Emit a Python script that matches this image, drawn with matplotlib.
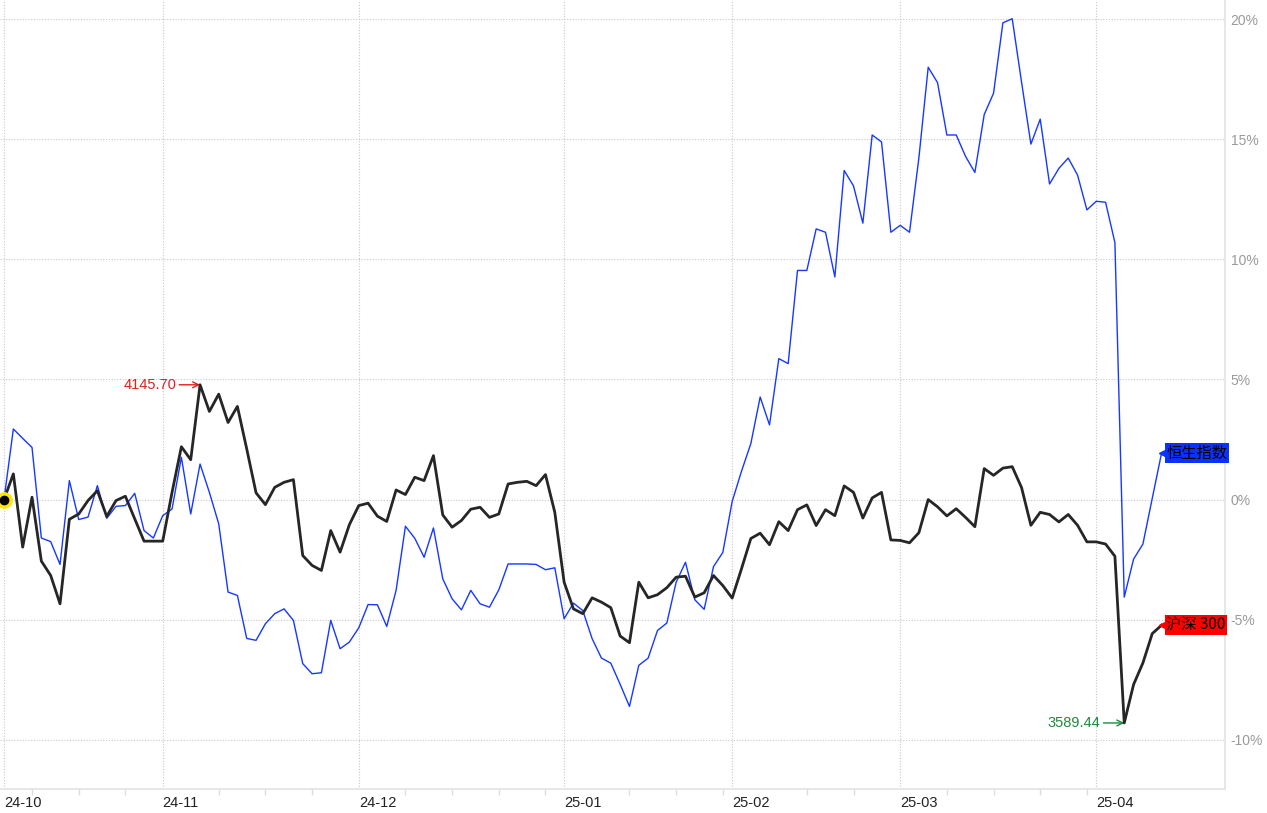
import numpy as np
import matplotlib.pyplot as plt

plt.rcParams['font.family'] = ['Liberation Sans', 'Noto Sans CJK SC', 'DejaVu Sans']

# % change vs. first day, one value per trading day (2024-10-09 .. 2025-04-11)
csi300 = [0, 1.07, -1.98, 0.1, -2.56, -3.16, -4.34, -0.82, -0.6, -0.04,
          0.37, -0.7, -0.04, 0.14, -0.8, -1.73, -1.73, -1.73, 0.3, 2.2,
          1.66, 4.78, 3.67, 4.39, 3.21, 3.88, 2.11, 0.28, -0.21, 0.51,
          0.72, 0.83, -2.33, -2.74, -2.95, -1.29, -2.19, -1.04, -0.25, -0.15,
          -0.69, -0.91, 0.4, 0.21, 0.93, 0.79, 1.83, -0.64, -1.15, -0.87,
          -0.4, -0.32, -0.74, -0.6, 0.65, 0.72, 0.76, 0.58, 1.04, -0.53,
          -3.44, -4.55, -4.75, -4.09, -4.27, -4.5, -5.68, -5.96, -3.44, -4.09,
          -3.96, -3.67, -3.23, -3.19, -4.06, -3.88, -3.16, -3.58, -4.1, -2.88,
          -1.62, -1.4, -1.88, -0.92, -1.29, -0.42, -0.22, -1.08, -0.42, -0.67,
          0.57, 0.3, -0.77, 0.07, 0.3, -1.68, -1.7, -1.8, -1.38, 0.0,
          -0.3, -0.68, -0.38, -0.74, -1.13, 1.29, 1.01, 1.31, 1.37, 0.5,
          -1.07, -0.53, -0.62, -0.93, -0.62, -1.07, -1.76, -1.76, -1.85, -2.36,
          -9.3, -7.7, -6.8, -5.58, -5.23]

hsi = [0, 2.94, 2.55, 2.17, -1.6, -1.75, -2.7, 0.79, -0.83, -0.73,
       0.58, -0.78, -0.28, -0.25, 0.26, -1.29, -1.6, -0.67, -0.39, 1.76,
       -0.6, 1.48, 0.3, -1.01, -3.85, -3.99, -5.78, -5.86, -5.17, -4.75,
       -4.55, -5.03, -6.83, -7.25, -7.21, -5.03, -6.21, -5.93, -5.34, -4.37,
       -4.38, -5.28, -3.78, -1.11, -1.61, -2.4, -1.18, -3.3, -4.13, -4.59,
       -3.78, -4.34, -4.48, -3.76, -2.68, -2.68, -2.68, -2.7, -2.92, -2.84,
       -4.96, -4.31, -4.62, -5.79, -6.6, -6.81, -7.69, -8.61, -6.9, -6.6,
       -5.45, -5.14, -3.44, -2.61, -4.17, -4.57, -2.79, -2.2, -0.08, 1.18,
       2.33, 4.27, 3.11, 5.87, 5.66, 9.54, 9.54, 11.27, 11.13, 9.27,
       13.7, 13.06, 11.51, 15.18, 14.89, 11.13, 11.42, 11.13, 14.22, 18.0,
       17.36, 15.18, 15.18, 14.29, 13.62, 16.03, 16.92, 19.85, 20.02, 17.38,
       14.8, 15.84, 13.14, 13.79, 14.22, 13.51, 12.06, 12.42, 12.38, 10.7,
       -4.06, -2.48, -1.85, 0.05, 1.94]

month_idx = [0, 17, 38, 60, 78, 96, 117]
month_labels = ['24-10', '24-11', '24-12', '25-01', '25-02', '25-03', '25-04']
week_idx = [3, 8, 13, 23, 28, 33, 43, 48, 53, 58, 67, 72, 77, 86, 91,
            101, 106, 111, 116]
y_ticks = [-10, -5, 0, 5, 10, 15, 20]

hi_label, hi_idx = '4145.70', 21
lo_label, lo_idx = '3589.44', 120

x = np.arange(len(csi300))
grid_c = '#c8c8c8'

fig = plt.figure(figsize=(12.67, 8.13), dpi=100)
ax = fig.add_axes([0, 0.0295, 0.9669, 0.9705])
ax.set_xlim(-0.43, 130.8)
ax.set_ylim(-12.05, 20.8)

for m in month_idx:
    ax.axvline(m, color=grid_c, lw=0.8, ls=(0, (1, 1.5)), zorder=0)
for t in y_ticks:
    ax.axhline(t, color=grid_c, lw=0.8, ls=(0, (1, 1.5)), zorder=0)

ax.plot(x, hsi, color='#1638ff', lw=1.0, zorder=3)
ax.plot(x, csi300, color='#262626', lw=2.0, zorder=4)

# start marker
ax.annotate('', xy=(1.3, 0), xytext=(0, 0),
            arrowprops=dict(arrowstyle='->', color='#ffe600', lw=1.5), zorder=5)
ax.plot([0], [0], 'o', ms=11, color='#ffe600', zorder=6, clip_on=False)
ax.plot([0], [0], 'o', ms=6, color='black', zorder=7, clip_on=False)

# high / low annotations
ax.annotate(hi_label, xy=(hi_idx, csi300[hi_idx]), xytext=(-17, 0),
            textcoords='offset points', ha='right', va='center',
            color='#e0201c', fontsize=10.5,
            arrowprops=dict(arrowstyle='->', color='#e0201c', lw=1,
                            shrinkA=0, shrinkB=0))
ax.annotate(lo_label, xy=(lo_idx, csi300[lo_idx]), xytext=(-17, 0),
            textcoords='offset points', ha='right', va='center',
            color='#1f8a3a', fontsize=10.5,
            arrowprops=dict(arrowstyle='->', color='#1f8a3a', lw=1,
                            shrinkA=0, shrinkB=0))

# end labels
for vals, name, col in [(hsi, '恒生指数', '#0a32ff'), (csi300, '沪深 300', '#ff0000')]:
    xe, ye = x[-1], vals[-1]
    ax.plot([xe + 0.3], [ye], marker='<', ms=7, color=col, zorder=8, clip_on=False)
    ax.annotate(name, xy=(xe, ye), xytext=(3.5, 0), textcoords='offset points',
                ha='left', va='center', fontsize=11, color='black',
                family=['Noto Sans CJK SC', 'DejaVu Sans'],
                bbox=dict(boxstyle='square,pad=0.1', fc=col, ec='none'),
                zorder=9, annotation_clip=False)

ax.yaxis.tick_right()
ax.set_yticks(y_ticks)
ax.set_yticklabels([f'{t}%' for t in y_ticks])
ax.tick_params(axis='y', length=0, pad=4, labelsize=10, labelcolor='#9a9a9a')

ax.set_xticks(month_idx)
ax.set_xticklabels(month_labels, ha='left')
ax.set_xticks(week_idx, minor=True)
ax.tick_params(axis='x', which='major', length=0, pad=5, labelsize=10.5,
               labelcolor='#222222')
ax.tick_params(axis='x', which='minor', length=4, color='#dddddd', width=1)

for s in ['left', 'top']:
    ax.spines[s].set_visible(False)
for s in ['right', 'bottom']:
    ax.spines[s].set_color('#e3e3e3')
    ax.spines[s].set_linewidth(1.2)

fig.savefig('out.png', dpi=100)
